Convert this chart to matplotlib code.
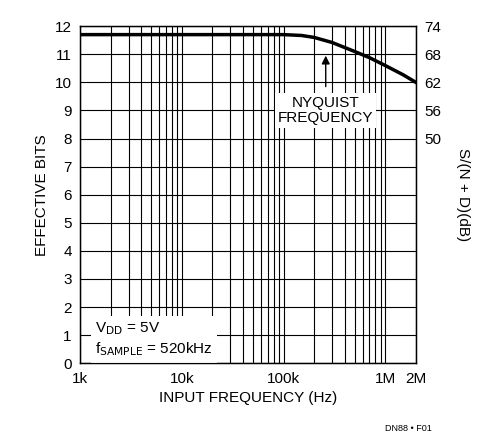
import matplotlib
matplotlib.use("Agg")
import matplotlib.pyplot as plt
import numpy as np

freq_hz = [1e3, 1e4, 5e4, 1e5, 1.5e5, 2e5, 3e5, 5e5, 7e5, 1e6, 1.5e6, 2e6]
eff_bits = [11.7, 11.7, 11.7, 11.7, 11.67, 11.6, 11.42, 11.1, 10.88, 10.6, 10.27, 10.0]
right_ticks = [8, 9, 10, 11, 12]
right_labels = ["50", "56", "62", "68", "74"]
x_ticks = [1e3, 1e4, 1e5, 1e6, 2e6]
x_labels = ["1k", "10k", "100k", "1M", "2M"]

plt.rcParams['font.family'] = ['Liberation Sans', 'DejaVu Sans']
fig = plt.figure(figsize=(4.98, 4.44), dpi=100)
ax = fig.add_axes([0.161, 0.182, 0.674, 0.759])
ax.set_xscale('log')
ax.set_xlim(1e3, 2e6)
ax.set_ylim(0, 12)
ax.set_yticks(range(13))
ax.set_xticks(x_ticks)
ax.set_xticklabels(x_labels)
ax.minorticks_on()
ax.yaxis.set_minor_locator(matplotlib.ticker.NullLocator())
ax.xaxis.set_minor_formatter(matplotlib.ticker.NullFormatter())
ax.grid(True, which='both', axis='x', color='black', lw=0.8)
ax.grid(True, which='major', axis='y', color='black', lw=0.8)
ax.tick_params(which='both', length=0, labelsize=11, pad=6)
for s in ax.spines.values():
    s.set_linewidth(1)
ax.plot(freq_hz, eff_bits, color='black', lw=2.5, zorder=5)
ax.set_xlabel("INPUT FREQUENCY (Hz)", fontsize=11)
ax.set_ylabel("EFFECTIVE BITS", fontsize=11)

ax2 = ax.twinx()
ax2.set_ylim(0, 12)
ax2.set_yticks(right_ticks)
ax2.set_yticklabels(right_labels)
ax2.tick_params(length=0, labelsize=11, pad=6)
ax2.set_ylabel("S/(N + D)(dB)", fontsize=11, rotation=270, labelpad=14)
ax2.yaxis.set_label_coords(1.16, 0.5)

ax.annotate("", xy=(2.6e5, 11.05), xytext=(2.6e5, 9.75),
            arrowprops=dict(arrowstyle='-|>', color='black', lw=1, mutation_scale=12), zorder=6)
ax.text(2.6e5, 9.0, "NYQUIST\nFREQUENCY", ha='center', va='center', fontsize=11,
        linespacing=1.1, bbox=dict(facecolor='white', edgecolor='none', pad=2), zorder=6)
ax.text(1.4e3, 0.85, "V$_{\\rm DD}$ = 5V\nf$_{\\rm SAMPLE}$ = 520kHz", ha='left', va='center',
        fontsize=11, linespacing=1.3, bbox=dict(facecolor='white', edgecolor='none', pad=3), zorder=6)
fig.text(0.82, 0.03, "DN88 • F01", fontsize=6.5, ha='center')
fig.savefig("out.png", dpi=100)
